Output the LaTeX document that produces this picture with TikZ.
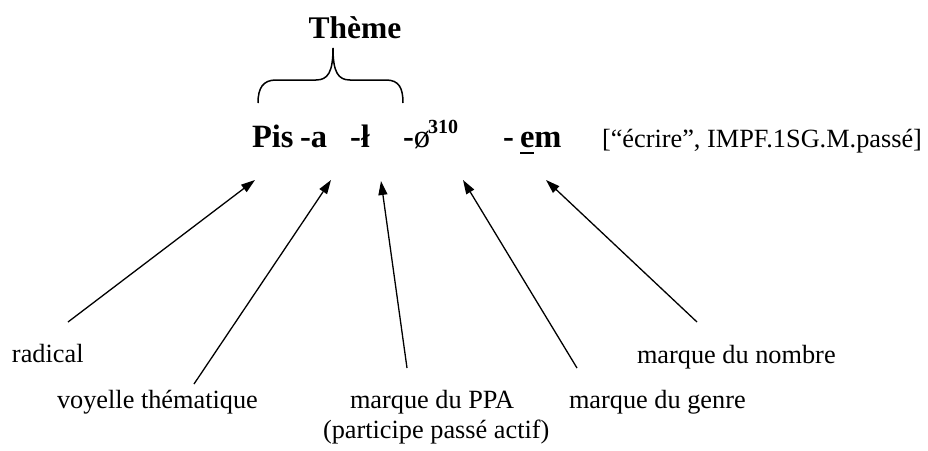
\documentclass[tikz,border=0pt]{standalone}
\usepackage{fontspec}
\setmainfont{Liberation Serif}
\usetikzlibrary{arrows.meta}
\begin{document}
\begin{tikzpicture}[x=1pt,y=-1pt,
  txt/.style={anchor=base west,inner sep=0pt,outer sep=0pt},
  lbl/.style={txt,font=\fontsize{26.3}{30}\selectfont},
  morph/.style={txt,font=\fontsize{32.5}{36}\selectfont\bfseries},
  arr/.style={line width=1.3pt,-{Triangle[length=14pt,width=9pt]}},
  bracepath/.style={line width=1.5pt}]
\useasboundingbox[fill=white] (0,0) rectangle (928,450);

\node[txt,font=\fontsize{31.5}{34}\selectfont\bfseries,anchor=base] (theme) at (355,38) {Thème};
\draw[bracepath] (258,103) .. controls (258,88) and (263,80) .. (276,80) -- (316,80)
  .. controls (328,80) and (333,72) .. (333,48)
  .. controls (333,72) and (338,80) .. (350,80) -- (386,80)
  .. controls (399,80) and (403,88) .. (403,103);

\node[morph] (pis) at (252,147) {Pis};
\node[morph] (a) at (300,147) {-a};
\node[morph] (l) at (350,147) {-ł};
\node[morph] (zero) at (403,147) {-\normalfont ø};
\node[txt,font=\fontsize{20}{22}\selectfont\bfseries] (sup) at (428,133) {310};
\node[morph] (dash) at (503,147) {-};
\node[morph] (e) at (520,147) {e};
\node[morph] (m) at (e.base east) {m};
\draw[line width=2.4pt] ([yshift=-6pt]e.base west) -- ([yshift=-6pt]e.base east);
\node[lbl] (gloss) at (602,147) {[“écrire”, IMPF.1SG.M.passé]};

\node[lbl] (rad) at (12,362) {radical};
\node[lbl] (voy) at (57,408) {voyelle thématique};
\node[lbl] (ppa) at (350,408) {marque du PPA};
\node[lbl] (ppa2) at (323,438) {(participe passé actif)};
\node[lbl] (gen) at (569,408) {marque du genre};
\node[lbl] (nom) at (637,363) {marque du nombre};

\coordinate (t1) at (68,322);  \coordinate (h1) at (255,180);
\coordinate (t2) at (194,384); \coordinate (h2) at (331,180);
\coordinate (t3) at (407,368); \coordinate (h3) at (381,181);
\coordinate (t4) at (577,368); \coordinate (h4) at (463,180);
\coordinate (t5) at (697,322); \coordinate (h5) at (546,180);

\draw[arr] (t1) -- (h1);
\draw[arr] (t2) -- (h2);
\draw[arr] (t3) -- (h3);
\draw[arr] (t4) -- (h4);
\draw[arr] (t5) -- (h5);
\end{tikzpicture}
\end{document}
